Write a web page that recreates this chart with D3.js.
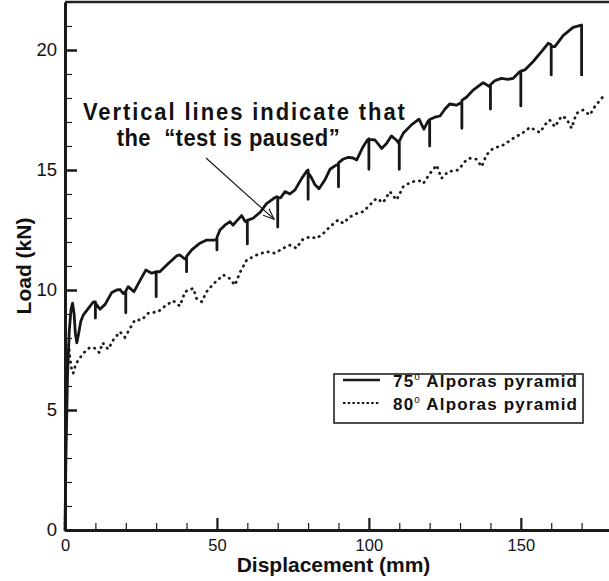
<!DOCTYPE html>
<html>
<head>
<meta charset="utf-8">
<script src="https://cdnjs.cloudflare.com/ajax/libs/d3/7.8.5/d3.min.js"></script>
<style>
  body { margin: 0; background: #fff; }
  svg { display: block; }
  text { font-family: "Liberation Sans", Arial, Helvetica, sans-serif; fill: #111; }
</style>
</head>
<body>
<div id="chart"></div>
<script>

//DATA
// 75 deg pyramid, the vertical drops are the points where the test was paused
var load75 = [
  [0,0],[0.3,3],[0.8,6.3],[1.4,8.3],[2.0,9.2],[2.5,9.45],[3.0,9.0],[3.4,8.2],[3.9,7.8],[4.5,8.2],[5.2,8.7],[6.0,8.95],[7.5,9.2],[9.3,9.5],
  [10,9.5],[10,8.83],[10,9.45],
  [11.5,9.2],[13.2,9.4],[15.4,9.9],[17,10.0],[18.1,10.02],[19.2,9.85],
  [20,9.95],[20,9.05],[20,9.95],
  [20.8,10.14],[22.7,9.93],[24.7,10.4],[26.6,10.83],[28.5,10.7],
  [30,10.76],[30,9.72],[30,10.76],
  [31.2,10.76],[34,11.1],[36.7,11.42],[37.8,11.46],[39.3,11.3],
  [40,11.35],[40,10.76],[40,11.4],
  [41.7,11.67],[44.4,11.95],[46.6,12.08],[48.8,12.08],
  [50,12.1],[50,11.67],[50,12.2],
  [51,12.5],[52.6,12.7],[54.3,12.85],[55.3,12.7],[56.3,12.85],[58.1,13.1],[59.3,12.85],
  [60,12.85],[60,11.92],[60,12.9],
  [61.9,12.99],[64.3,13.25],[66.3,13.6],[68.5,13.8],[69.5,13.88],
  [70,13.88],[70,12.62],[70,13.82],
  [71,13.85],[72.4,14.1],[74,14.0],[75.7,14.17],[77.9,14.65],[79.5,14.95],
  [80,15.0],[80,13.78],[80,14.9],
  [81,14.7],[82.2,14.4],[83.6,14.22],[85.5,14.58],[87.2,15.03],[89.2,15.2],
  [90,15.25],[90,14.3],[90,15.3],
  [91.5,15.45],[93.2,15.53],[94.8,15.5],[96,15.42],[98.1,15.97],[99.5,16.25],
  [100,16.3],[100,15.03],[100,16.28],
  [102,16.25],[104.2,15.9],[105.8,16.1],[107.4,16.42],[109,16.25],
  [110,16.1],[110,15.03],[110,16.2],
  [111.3,16.53],[114,16.88],[116.5,17.12],[118.1,16.7],[119.5,17.05],
  [120,17.08],[120,16.0],[120,17.1],
  [121.7,17.2],[123.4,17.25],[125,17.53],[126.6,17.75],[128.8,17.7],[130.3,17.8],
  [130.6,17.82],[130.6,16.74],[130.6,17.9],
  [132.1,18.03],[134.3,18.33],[137.6,18.64],[139.8,18.47],
  [140,18.47],[140,17.54],[140,18.55],
  [141.4,18.72],[143.6,18.82],[145.8,18.78],[147.5,18.82],[149.7,19.1],
  [150,19.12],[150,17.67],[150,19.12],
  [151.3,19.17],[154,19.51],[156.8,19.93],[159,20.28],
  [160,20.22],[160,18.96],[160,20.15],
  [161.2,20.14],[163.9,20.6],[167.2,20.94],[170,21.04],[170,18.92]
];

// 80 deg pyramid
var load80 = [
  [0,0],[0.3,3.5],[0.6,6],[0.9,7.3],[1.2,7.75],[1.6,7.2],[2.1,6.75],[2.7,6.53],[3.5,6.9],[4.4,7.08],[6,7.36],[8.2,7.61],[9.9,7.57],
  [11.3,7.39],[12.4,7.8],[14.2,7.53],[15.9,7.92],[18.1,8.26],[19.7,8.03],[21.4,8.4],[23,8.75],[25.2,8.75],[27.4,9.03],[30.7,9.1],
  [32.9,9.33],[35.6,9.55],[37.8,9.33],[39.5,9.93],[42.2,10.07],[43.3,9.65],[45,9.51],[46.6,9.93],[48.8,10.25],[52.1,10.63],
  [54.3,10.47],[55.9,10.2],[57.6,10.74],[59.8,11.25],[63.1,11.46],[66.3,11.6],[69.1,11.53],[71.8,11.74],[74,11.87],[76.2,11.74],
  [77.9,12.08],[80.6,12.22],[82.8,12.15],[85,12.36],[87.2,12.64],[89.9,12.92],[91.5,12.78],[93.8,13.05],[96.5,13.22],[98.1,13.26],
  [100.3,13.54],[102.5,13.82],[104.7,13.64],[106.9,14.1],[109.1,13.75],[111.3,14.3],[114,14.51],[116.8,14.55],[117.9,14.44],
  [120.1,14.86],[122.3,15.2],[123.9,14.65],[126.1,14.93],[129.4,15.0],[131.6,15.35],[133.2,15.49],[135.4,15.45],[137.1,15.14],
  [138.7,15.63],[140.9,15.9],[144.2,16.04],[147.5,16.32],[150.8,16.56],[153,16.78],[156.3,16.56],[157.9,16.88],[159.5,17.08],
  [161.2,16.8],[163.4,17.25],[165,17.15],[166.7,16.74],[168.3,17.36],[170.5,17.5],[172.7,17.29],[174.3,17.64],[177,18.05]
];

var xMajor = [0, 50, 100, 150];
var xMinor = [10, 20, 30, 40, 60, 70, 80, 90, 110, 120, 130, 140, 160, 170];
var yMajor = [0, 5, 10, 15, 20];
var yMinor = [1, 2, 3, 4, 6, 7, 8, 9, 11, 12, 13, 14, 16, 17, 18, 19, 21];

var seriesNames = ['75', '80'];
var noteLines = ['Vertical lines indicate that', 'the  \u201Ctest is paused\u201D'];

//SET UP
var width = 609,
    height = 581;

var svg = d3.select('#chart').append('svg')
    .attr('width', width)
    .attr('height', height);

var x = d3.scaleLinear().domain([0, 180]).range([65, 612]);
var y = d3.scaleLinear().domain([0, 22]).range([530, 2]);

//top frame line
svg.append('line')
    .attr('x1', x(0)).attr('x2', x(180))
    .attr('y1', y(22)).attr('y2', y(22))
    .style('stroke', '#222').style('stroke-width', 2.5);

//AXES
function styleAxis(g, w) {
  g.select('.domain').style('stroke', '#1a1a1a').style('stroke-width', 3);
  g.selectAll('.tick line').style('stroke', '#1a1a1a').style('stroke-width', w);
}

svg.append('g')
    .attr('transform', 'translate(0,' + y(0) + ')')
    .call(d3.axisBottom(x).tickValues(xMinor).tickSize(-7).tickSizeOuter(0).tickFormat(''))
    .call(function(g){ styleAxis(g, 1.2); g.select('.domain').remove(); });

svg.append('g')
    .attr('transform', 'translate(' + x(0) + ',0)')
    .call(d3.axisLeft(y).tickValues(yMinor).tickSize(-7).tickSizeOuter(0).tickFormat(''))
    .call(function(g){ styleAxis(g, 1.2); g.select('.domain').remove(); });

var xAxis = svg.append('g')
    .attr('transform', 'translate(0,' + y(0) + ')')
    .call(d3.axisBottom(x).tickValues(xMajor).tickSize(-12).tickSizeOuter(0).tickPadding(9))
    .call(function(g){ styleAxis(g, 2.2); });
xAxis.selectAll('.tick text')
    .style('font-size', '16.5px').style('fill', '#111');

var yAxis = svg.append('g')
    .attr('transform', 'translate(' + x(0) + ',0)')
    .call(d3.axisLeft(y).tickValues(yMajor).tickSize(-12).tickSizeOuter(0).tickPadding(8))
    .call(function(g){ styleAxis(g, 2.5); });
yAxis.selectAll('.tick text')
    .style('font-size', '18.5px').style('fill', '#111');

//axis titles
svg.append('text')
    .attr('x', (x(0) + x(180)) / 2 - 5)
    .attr('y', 572)
    .attr('text-anchor', 'middle')
    .style('font-size', '21px').style('font-weight', 'bold')
    .text('Displacement (mm)');

svg.append('text')
    .attr('transform', 'translate(31,' + y(11) + ') rotate(-90)')
    .attr('text-anchor', 'middle')
    .style('font-size', '21px').style('font-weight', 'bold')
    .text('Load (kN)');

//LINES
var line = d3.line()
    .x(function(d){ return x(d[0]); })
    .y(function(d){ return y(d[1]); });

svg.append('path')
    .datum(load80)
    .attr('d', line)
    .style('fill', 'none')
    .style('stroke', '#1e1e1e')
    .style('stroke-width', 2.8)
    .style('stroke-linecap', 'round')
    .style('stroke-dasharray', '0.4,5.6');

svg.append('path')
    .datum(load75)
    .attr('d', line)
    .style('fill', 'none')
    .style('stroke', '#161616')
    .style('stroke-width', 2.8)
    .style('stroke-linejoin', 'round');

//ANNOTATION (anchored in data units)
svg.append('text')
    .attr('transform', 'translate(' + x(5.9) + ',' + y(17.08) + ') scale(1,1.1)')
    .attr('textLength', 322).attr('lengthAdjust', 'spacing')
    .style('font-size', '22px').style('font-weight', 'bold')
    .text(noteLines[0]);

svg.append('text')
    .attr('transform', 'translate(' + x(17) + ',' + y(16.0) + ') scale(1,1.1)')
    .attr('textLength', 223).attr('lengthAdjust', 'spacing')
    .style('font-size', '22px').style('font-weight', 'bold')
    .style('white-space', 'pre')
    .text(noteLines[1]);

svg.append('defs').append('marker')
    .attr('id', 'arrow')
    .attr('viewBox', '0 0 12 10')
    .attr('refX', 11).attr('refY', 5)
    .attr('markerWidth', 12).attr('markerHeight', 10)
    .attr('markerUnits', 'userSpaceOnUse')
    .attr('orient', 'auto')
  .append('path')
    .attr('d', 'M0,0.5 L11,5 L0,9.5')
    .style('fill', 'none').style('stroke', '#111').style('stroke-width', 1.1);

svg.append('line')
    .attr('x1', x(46.4)).attr('y1', y(15.5))
    .attr('x2', x(68.8)).attr('y2', y(12.95))
    .style('stroke', '#111').style('stroke-width', 1.1)
    .attr('marker-end', 'url(#arrow)');

//LEGEND
var legend = svg.append('g').attr('transform', 'translate(334,374)');

legend.append('rect')
    .attr('width', 249).attr('height', 49)
    .style('fill', '#fff').style('stroke', '#222').style('stroke-width', 1.6);

var items = legend.selectAll('.item')
    .data(seriesNames)
  .enter().append('g')
    .attr('class', 'item')
    .attr('transform', function(d, i){ return 'translate(0,' + (6 + i * 23) + ')'; });

items.append('line')
    .attr('x1', 9).attr('x2', 46).attr('y1', 0).attr('y2', 0)
    .style('stroke', '#1a1a1a')
    .style('stroke-width', function(d, i){ return i ? 2.2 : 2.5; })
    .style('stroke-dasharray', function(d, i){ return i ? '2.5,2.2' : null; });

var lt = items.append('text')
    .attr('x', 59).attr('y', 7)
    .attr('textLength', 184).attr('lengthAdjust', 'spacing')
    .style('font-size', '17px').style('font-weight', 'bold');
lt.append('tspan').text(function(d){ return d; });
lt.append('tspan').attr('dy', -7).style('font-size', '10px').style('font-weight', 'normal').text('o');
lt.append('tspan').attr('dy', 7).text(' Alporas pyramid');

</script>
</body>
</html>
